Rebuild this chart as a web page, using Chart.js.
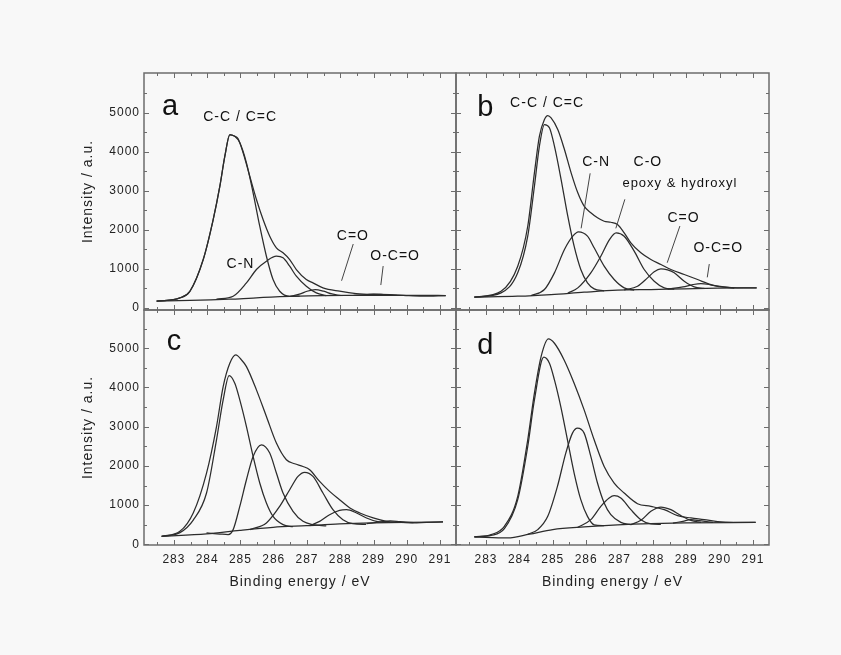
<!DOCTYPE html>
<html lang="en">
<head>
<meta charset="UTF-8">
<title>C 1s spectra a-d</title>
<script src="https://cdn.jsdelivr.net/npm/chart.js@4.4.1/dist/chart.umd.min.js"></script>
<style>
  body { margin: 0; background: #f8f8f8; }
  .wrap { position: relative; width: 841px; height: 655px; }
  .wrap canvas { position: absolute; left: 0; top: 0; }
</style>
</head>
<body>
<div class="wrap">
  <canvas id="panelA" width="841" height="655"></canvas>
  <canvas id="panelB" width="841" height="655"></canvas>
  <canvas id="panelC" width="841" height="655"></canvas>
  <canvas id="panelD" width="841" height="655"></canvas>
</div>

<script>
// tick values
const energyTicks = [283, 284, 285, 286, 287, 288, 289, 290, 291];
const energyMinor = [282.5, 283.5, 284.5, 285.5, 286.5, 287.5, 288.5, 289.5, 290.5, 291];
const intensityTicks = [0, 1000, 2000, 3000, 4000, 5000];
const intensityMinor = [500, 1500, 2500, 3500, 4500, 5500];

// panel a  [binding energy, intensity]
const aEnvelope = [[282.48,175],[283.18,260],[283.48,430],[283.88,1240],[284.18,2263],[284.38,3115],[284.53,3882],[284.68,4437],[284.83,4394],[284.93,4327],[285.08,3969],[285.28,3371],[285.48,2775],[285.68,2263],[285.88,1837],[286.08,1540],[286.28,1412],[286.48,1240],[286.68,985],[286.98,729],[287.18,644],[287.48,516],[287.98,430],[288.48,371],[288.98,350],[289.48,345],[289.98,320],[290.48,305],[291.17,320]];
const aCC = [[282.48,175],[283.18,258],[283.48,428],[283.88,1238],[284.18,2260],[284.38,3112],[284.53,3878],[284.68,4430],[284.83,4390],[284.98,4224],[285.18,3713],[285.38,2946],[285.58,2092],[285.78,1325],[285.98,729],[286.18,430],[286.48,300],[286.78,305]];
const aCN = [[284.28,228],[284.78,302],[285.18,644],[285.48,985],[285.78,1198],[286.08,1325],[286.28,1283],[286.48,1070],[286.68,814],[286.98,558],[287.28,388],[287.58,320]];
const aCdO = [[286.5,298],[286.8,360],[287.0,430],[287.25,473],[287.5,430],[287.75,360],[288.0,322]];
const aOCO = [[288.4,322],[288.8,345],[289.0,355],[289.3,345],[289.7,325]];
const aBackground = [[282.48,175],[283.48,195],[284.48,222],[284.98,235],[285.48,262],[286.48,296],[287.48,318],[288.48,322],[289.48,325],[290.48,325],[291.17,320]];

// panel b
const bEnvelope = [[282.65,277],[283.45,430],[283.95,1070],[284.25,2092],[284.45,3457],[284.60,4394],[284.75,4821],[284.85,4923],[284.95,4864],[285.15,4565],[285.35,4054],[285.55,3457],[285.75,2946],[285.94,2604],[286.14,2435],[286.34,2307],[286.54,2220],[286.74,2194],[286.94,2136],[287.14,1923],[287.34,1668],[287.64,1412],[287.94,1240],[288.24,1113],[288.54,985],[288.94,857],[289.34,729],[289.74,601],[290.13,541],[290.54,516],[291.11,516]];
const bCC = [[282.65,277],[283.45,388],[283.95,900],[284.25,1837],[284.45,3115],[284.60,4139],[284.75,4693],[284.90,4608],[285.05,4139],[285.25,3286],[285.45,2348],[285.64,1581],[285.84,985],[286.04,644],[286.24,490],[286.54,440]];
const bCN = [[284.35,320],[284.75,473],[285.05,900],[285.35,1496],[285.6,1837],[285.77,1948],[286.04,1837],[286.24,1540],[286.54,1070],[286.84,729],[287.14,516],[287.44,460]];
const bCO = [[285.45,380],[285.75,516],[286.14,900],[286.44,1326],[286.7,1752],[286.9,1923],[287.14,1837],[287.44,1455],[287.74,985],[288.04,686],[288.34,516],[288.64,482]];
const bCdO = [[287.14,462],[287.54,558],[287.84,771],[288.04,930],[288.24,1002],[288.44,975],[288.64,900],[288.94,686],[289.24,541],[289.54,500]];
const bOCO = [[288.44,485],[288.9,540],[289.2,600],[289.44,625],[289.7,600],[290.0,545],[290.44,512]];
const bBackground = [[282.65,277],[283.95,302],[284.95,345],[285.94,405],[286.94,456],[287.94,473],[288.94,490],[289.94,507],[291.11,516]];

// panel c
const cEnvelope = [[282.63,206],[283.18,333],[283.58,801],[283.98,1819],[284.28,3005],[284.48,4023],[284.68,4618],[284.86,4830],[285.03,4702],[285.18,4532],[285.48,3939],[285.78,3260],[286.08,2583],[286.38,2158],[286.63,2056],[286.88,1987],[287.08,1903],[287.38,1606],[287.68,1351],[287.98,1140],[288.29,929],[288.59,801],[288.99,674],[289.39,588],[289.79,562],[290.19,547],[290.59,562],[291.09,573]];
const cCC = [[282.63,206],[283.18,300],[283.58,620],[283.98,1310],[284.28,2667],[284.48,3685],[284.66,4303],[284.83,4109],[284.98,3685],[285.18,3005],[285.38,2242],[285.58,1565],[285.78,1056],[285.98,715],[286.28,504],[286.58,450]];
const cCN = [[283.98,292],[284.38,265],[284.63,250],[284.78,377],[284.98,970],[285.18,1649],[285.38,2242],[285.63,2539],[285.88,2328],[286.08,1819],[286.28,1310],[286.58,843],[286.88,588],[287.18,504],[287.58,470]];
const cCO = [[285.28,377],[285.78,547],[286.18,970],[286.48,1394],[286.73,1733],[286.93,1836],[287.18,1733],[287.48,1310],[287.78,885],[288.08,631],[288.38,529],[288.78,510]];
const cCdO = [[287.08,478],[287.38,588],[287.68,758],[287.98,868],[288.19,885],[288.49,801],[288.79,674],[289.09,588],[289.39,562]];
const cOCO = [[288.8,530],[289.2,575],[289.5,600],[289.8,580],[290.2,556]];
const cBackground = [[282.63,206],[283.98,267],[284.98,359],[285.98,436],[286.98,478],[287.98,521],[288.99,547],[289.99,562],[291.09,573]];

// panel d
const dEnvelope = [[282.65,190],[283.15,249],[283.55,461],[283.95,1224],[284.25,2667],[284.45,3855],[284.65,4786],[284.87,5237],[285.05,5127],[285.34,4702],[285.64,4109],[285.94,3430],[286.24,2667],[286.54,1987],[286.84,1565],[287.14,1310],[287.54,1038],[287.94,970],[288.34,885],[288.74,733],[289.14,674],[289.54,631],[289.94,580],[290.43,562],[291.08,562]];
const dCC = [[282.65,190],[283.15,230],[283.55,400],[283.95,1140],[284.25,2496],[284.45,3685],[284.73,4771],[284.9,4618],[285.05,4193],[285.24,3514],[285.44,2667],[285.64,1819],[285.84,1140],[286.04,715],[286.24,500],[286.54,476]];
const dCN = [[284.25,260],[284.55,377],[284.85,715],[285.14,1478],[285.39,2328],[285.59,2837],[285.74,2964],[285.94,2837],[286.14,2242],[286.34,1565],[286.54,1056],[286.74,758],[287.04,562],[287.34,504]];
const dCO = [[285.74,430],[286.14,631],[286.44,970],[286.69,1183],[286.84,1242],[287.04,1183],[287.34,885],[287.64,631],[287.94,521],[288.24,508]];
const dCdO = [[287.34,505],[287.64,614],[287.94,843],[288.24,953],[288.54,885],[288.84,733],[289.14,614],[289.44,562]];
const dOCO = [[288.6,540],[288.9,590],[289.14,630],[289.4,605],[289.8,560]];
const dBackground = [[282.65,190],[283.65,165],[284.3,260],[285.0,377],[285.94,445],[286.94,496],[287.94,529],[288.94,547],[291.08,562]];

const FONT = "'Liberation Sans', Arial, sans-serif";
const INK = '#222222';
const LINE = '#2c2c2c';
const FRAME = '#6c6c6c';

function curve(points) {
    return {
        data: points,
        borderColor: LINE,
        borderWidth: 1.25,
        pointRadius: 0,
        fill: false,
        cubicInterpolationMode: 'monotone'
    };
}

// frame box + inward ticks on all four sides
const frameTicks = {
    id: 'frameTicks',
    beforeDraw(chart) {
        chart.ctx.letterSpacing = '1px';
    },
    afterDatasetsDraw(chart) {
        const { ctx, chartArea: a, scales: { x, y } } = chart;
        ctx.save();
        ctx.strokeStyle = FRAME;
        ctx.lineWidth = 1;
        ctx.beginPath();
        const xt = (vals, len) => vals.forEach(v => {
            const px = Math.round(x.getPixelForValue(v)) + 0.5;
            ctx.moveTo(px, a.bottom); ctx.lineTo(px, a.bottom - len);
            ctx.moveTo(px, a.top); ctx.lineTo(px, a.top + len);
        });
        const yt = (vals, len) => vals.forEach(v => {
            if (v < y.min || v > y.max) return;
            const py = Math.round(y.getPixelForValue(v)) + 0.5;
            ctx.moveTo(a.left, py); ctx.lineTo(a.left + len, py);
            ctx.moveTo(a.right, py); ctx.lineTo(a.right - len, py);
        });
        xt(energyTicks, 5); xt(energyMinor, 3);
        yt(intensityTicks, 5); yt(intensityMinor, 3);
        ctx.stroke();
        ctx.lineWidth = 1.5;
        ctx.strokeRect(a.left, a.top, a.right - a.left, a.bottom - a.top);
        ctx.restore();
    }
};

// peak labels and leader lines, placed in data units
const peakNotes = {
    id: 'peakNotes',
    afterDraw(chart, args, opts) {
        const { ctx, scales: { x, y } } = chart;
        ctx.save();
        ctx.strokeStyle = '#444';
        ctx.lineWidth = 1;
        (opts.leaders || []).forEach(l => {
            ctx.beginPath();
            ctx.moveTo(x.getPixelForValue(l[0]), y.getPixelForValue(l[1]));
            ctx.lineTo(x.getPixelForValue(l[2]), y.getPixelForValue(l[3]));
            ctx.stroke();
        });
        ctx.fillStyle = '#111';
        ctx.textAlign = 'center';
        (opts.items || []).forEach(n => {
            ctx.font = (n.size || 14) + 'px ' + FONT;
            ctx.letterSpacing = n.size > 20 ? '0px' : '1px';
            ctx.textBaseline = n.base || 'middle';
            ctx.fillText(n.text, x.getPixelForValue(n.x), y.getPixelForValue(n.y));
        });
        ctx.restore();
    }
};

function makePanel(id, cfg) {
    const xAxis = {
        type: 'linear', min: 282.1, max: 291.48,
        display: cfg.xLabels,
        grid: { display: false, drawTicks: false },
        border: { display: false },
        afterBuildTicks: s => { s.ticks = energyTicks.map(v => ({ value: v })); },
        afterFit: s => { s.height = cfg.xLabels ? 46 : 0; },
        ticks: { color: INK, font: { family: FONT, size: 12 }, padding: 7, maxRotation: 0, callback: v => String(v) },
        title: { display: true, text: 'Binding energy / eV', color: INK, font: { family: FONT, size: 14 }, padding: { top: 0, bottom: 0 } }
    };
    const yAxis = {
        type: 'linear', min: cfg.yMin, max: cfg.yMax,
        display: cfg.yLabels,
        grid: { display: false, drawTicks: false },
        border: { display: false },
        afterBuildTicks: s => { s.ticks = intensityTicks.map(v => ({ value: v })); },
        afterFit: s => { s.width = cfg.yLabels ? 70 : 0; },
        ticks: { color: INK, font: { family: FONT, size: 12 }, padding: 4, callback: v => String(v) },
        title: { display: true, text: 'Intensity / a.u.', color: INK, font: { family: FONT, size: 14 }, padding: { top: 6, bottom: 0 } }
    };
    return new Chart(document.getElementById(id), {
        type: 'line',
        data: { datasets: cfg.series.map(curve) },
        options: {
            responsive: false,
            animation: false,
            events: [],
            layout: { padding: cfg.pad },
            scales: { x: xAxis, y: yAxis },
            plugins: {
                legend: { display: false },
                tooltip: { enabled: false },
                peakNotes: { items: cfg.notes, leaders: cfg.leaders || [] }
            }
        },
        plugins: [frameTicks, peakNotes]
    });
}

makePanel('panelA', {
    series: [aBackground, aOCO, aCdO, aCN, aCC, aEnvelope],
    yMin: -50, yMax: 6010, xLabels: false, yLabels: true,
    pad: { left: 74, right: 385, top: 73, bottom: 345 },
    notes: [
        { text: 'a', x: 282.88, y: 4936, size: 29, base: 'alphabetic' },
        { text: 'C-C / C=C', x: 284.99, y: 4893 },
        { text: 'C-N', x: 285.0, y: 1125 },
        { text: 'C=O', x: 288.38, y: 1841 },
        { text: 'O-C=O', x: 289.65, y: 1330 }
    ],
    leaders: [[288.39, 1637, 288.04, 698], [289.29, 1074, 289.22, 588]]
});

makePanel('panelB', {
    series: [bBackground, bOCO, bCdO, bCO, bCN, bCC, bEnvelope],
    yMin: -50, yMax: 6010, xLabels: false, yLabels: false,
    pad: { left: 456, right: 72, top: 73, bottom: 345 },
    notes: [
        { text: 'b', x: 282.98, y: 4910, size: 29, base: 'alphabetic' },
        { text: 'C-C / C=C', x: 284.83, y: 5243 },
        { text: 'C-N', x: 286.30, y: 3721 },
        { text: 'C-O', x: 287.85, y: 3721 },
        { text: 'epoxy & hydroxyl', x: 288.81, y: 3180, size: 13 },
        { text: 'C=O', x: 288.92, y: 2294 },
        { text: 'O-C=O', x: 289.96, y: 1527 }
    ],
    leaders: [[286.12, 3445, 285.85, 2038], [287.16, 2780, 286.89, 2038], [288.81, 2097, 288.43, 1159], [289.69, 1125, 289.63, 785]]
});

makePanel('panelC', {
    series: [cBackground, cOCO, cCdO, cCO, cCN, cCC, cEnvelope],
    yMin: -15, yMax: 5975, xLabels: true, yLabels: true,
    pad: { left: 74, right: 385, top: 310, bottom: 64 },
    notes: [{ text: 'c', x: 283.0, y: 4955, size: 29, base: 'alphabetic' }]
});

makePanel('panelD', {
    series: [dBackground, dOCO, dCdO, dCO, dCN, dCC, dEnvelope],
    yMin: -15, yMax: 5975, xLabels: true, yLabels: false,
    pad: { left: 456, right: 72, top: 310, bottom: 64 },
    notes: [{ text: 'd', x: 282.98, y: 4853, size: 29, base: 'alphabetic' }]
});
</script>
</body>
</html>
